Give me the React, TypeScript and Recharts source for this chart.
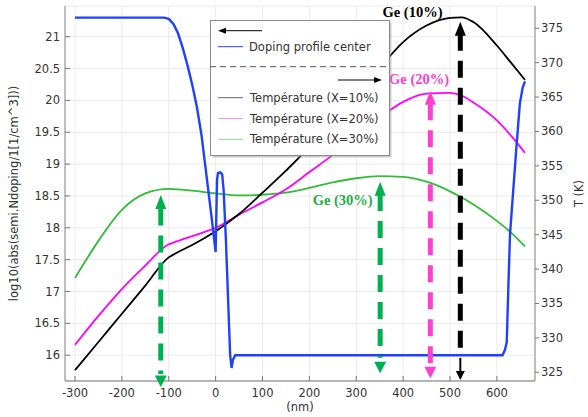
import React from "react";
import { LineChart, Line, XAxis, YAxis, CartesianGrid, ReferenceLine, ReferenceDot, Label } from "recharts";

// doping profile (left axis, log10 of |Ndoping| in cm^-3)
const dopingX = [-300, -200, -110, -100, -90, -80, -70, -60, -50, -40, -30, -20, -10, 0, 1.5, 3, 5, 10, 14, 17, 22, 27, 31, 34, 37, 42, 100, 300, 500, 612, 617, 621, 624.6, 628, 635, 642, 649, 655, 660];
const dopingLog = [21.3, 21.3, 21.3, 21.28, 21.2, 21.05, 20.82, 20.55, 20.25, 19.9, 19.45, 18.85, 18.25, 17.62, 18.2, 18.75, 18.86, 18.87, 18.84, 18.6, 17.8, 16.8, 16.0, 15.8, 15.93, 16.0, 16.0, 16.0, 16.0, 16.0, 16.08, 16.2, 17.1, 17.9, 18.6, 19.3, 19.95, 20.2, 20.3];

// temperature (right axis, K)
const tempX = [-300, -250, -200, -150, -100, -90, -50, 0, 50, 100, 150, 200, 250, 300, 350, 400, 450, 500, 525, 550, 600, 630, 660];
const temp10 = [325.3, 329.4, 333.5, 337.6, 341.7, 342.1, 343.5, 345.5, 348.0, 351.1, 354.3, 357.8, 362.0, 365.9, 369.3, 373.0, 375.4, 376.5, 376.6, 375.9, 372.5, 370.0, 367.5];
const temp20 = [329.0, 333.2, 337.1, 340.5, 343.6, 343.85, 344.8, 346.0, 347.9, 349.7, 351.6, 354.1, 356.6, 359.3, 362.0, 364.3, 365.5, 365.6, 365.2, 364.2, 361.6, 359.4, 356.9];
const temp30 = [338.7, 344.1, 348.6, 351.0, 351.65, 351.62, 351.4, 351.0, 350.7, 350.8, 351.1, 351.8, 352.6, 353.2, 353.5, 353.4, 352.7, 351.3, 350.4, 349.4, 347.0, 345.3, 343.3];

const xTicks = [-300, -200, -100, 0, 100, 200, 300, 400, 500, 600];
const leftTicks = [16, 16.5, 17, 17.5, 18, 18.5, 19, 19.5, 20, 20.5, 21];
const rightTicks = [325, 330, 335, 340, 345, 350, 355, 360, 365, 370, 375];

// peak markers: x, up-arrow tip, shaft top, shaft bottom, down-arrow tip (all in nm / K)
const arrowX = [-117, 351, 458, 522];
const arrowUpTip = [350.77, 352.7, 365.93, 375.96];
const arrowShaftTop = [348.8, 350.9, 364.1, 374.2];
const arrowShaftBottom = [324.75, 327.1, 326.1, 327.4];
const arrowDownTip = [322.86, 324.85, 324.13, 323.88];
const arrowColors = ["#00b050", "#00b050", "#ff3fcf", "#000000"];

const geLabels = ["Ge (10%)", "Ge (20%)", "Ge (30%)"];
const geLabelX = [420, 434, 271];
const geLabelT = [377.3, 367.6, 350.1];
const geColors = ["#000000", "#ff3fcf", "#1fae45"];

const legendLabels = ["Doping profile center", "Température (X=10%)", "Température (X=20%)", "Température (X=30%)"];
const legendColors = ["#2040ff", "#6a6a6a", "#ff8cf0", "#8fd68f"];

const dopingData = dopingX.map((x, i) => ({ x, v: dopingLog[i] }));
const tempData = tempX.map((x, i) => ({ x, t10: temp10[i], t20: temp20[i], t30: temp30[i] }));

const FONT = "DejaVu Sans";

const LeftTick = (p: any) => (
  <g>
    <line x1={p.x} x2={p.x + 5} y1={p.y} y2={p.y} stroke="#777" />
    <text x={p.x - 5} y={p.y} textAnchor="end" dominantBaseline="central" fontSize={11.5} fill="#333" fontFamily={FONT}>
      {p.payload.value}
    </text>
  </g>
);

const RightTick = (p: any) => (
  <g>
    <line x1={p.x} x2={p.x + 4} y1={p.y} y2={p.y} stroke="#777" />
    <text x={p.x + 6} y={p.y} textAnchor="start" dominantBaseline="central" fontSize={11.5} fill="#333" fontFamily={FONT}>
      {p.payload.value}
    </text>
  </g>
);

const BottomTick = (p: any) => (
  <g>
    <line x1={p.x} x2={p.x} y1={p.y} y2={p.y - 5} stroke="#777" />
    <text x={p.x} y={p.y + 12} textAnchor="middle" dominantBaseline="central" fontSize={11.5} fill="#333" fontFamily={FONT}>
      {p.payload.value}
    </text>
  </g>
);

const TopTick = (p: any) => <line x1={p.x} x2={p.x} y1={p.y} y2={p.y + 5} stroke="#aaa" />;

const title = (text: string, dx: number, dy: number, angle: number) => (props: any) => {
  const vb = props.viewBox;
  const x = vb.x + dx;
  const y = vb.y + dy;
  return (
    <text x={x} y={y} transform={angle ? `rotate(${angle} ${x} ${y})` : undefined} textAnchor="middle" dominantBaseline="central" fontSize={11.5} fill="#333" fontFamily={FONT}>
      {text}
    </text>
  );
};

const headUp = (color: string, w: number, h: number) => (p: any) => (
  <polygon points={`${p.cx},${p.cy} ${p.cx - w / 2},${p.cy + h} ${p.cx + w / 2},${p.cy + h}`} fill={color} />
);
const headDown = (color: string, w: number, h: number) => (p: any) => (
  <polygon points={`${p.cx},${p.cy} ${p.cx - w / 2},${p.cy - h} ${p.cx + w / 2},${p.cy - h}`} fill={color} />
);
const geText = (text: string, color: string) => (p: any) => (
  <text x={p.cx} y={p.cy} textAnchor="middle" dominantBaseline="central" fontSize={14.5} fontWeight="bold" fill={color} fontFamily="Liberation Serif">
    {text}
  </text>
);

const LegendBox = () => (
  <svg width={182} height={138} style={{ position: "absolute", left: 210, top: 20, overflow: "visible" }}>
    <rect x={2.5} y={2.5} width={179} height={135} fill="#9a9a9a" opacity={0.5} />
    <rect x={0.5} y={0.5} width={179} height={135} fill="#fff" stroke="#8a8a8a" />
    <line x1={14} x2={52} y1={10.7} y2={10.7} stroke="#000" />
    <polygon points="8,10.7 16,7.7 16,13.7" fill="#000" />
    <line x1={8} x2={33} y1={26.7} y2={26.7} stroke={legendColors[0]} />
    <text x={39} y={26.7} dominantBaseline="central" fontSize={11.5} fill="#333" fontFamily={FONT}>{legendLabels[0]}</text>
    <line x1={0} x2={180} y1={46.7} y2={46.7} stroke="#555" strokeDasharray="6 4" />
    <line x1={128} x2={166} y1={60} y2={60} stroke="#000" />
    <polygon points="172,60 164,57 164,63" fill="#000" />
    {legendLabels.slice(1).map((l, i) => (
      <g key={l}>
        <line x1={8} x2={33} y1={77.7 + i * 20.8} y2={77.7 + i * 20.8} stroke={legendColors[i + 1]} />
        <text x={40} y={77.7 + i * 20.8} dominantBaseline="central" fontSize={11.5} fill="#333" fontFamily={FONT}>{l}</text>
      </g>
    ))}
  </svg>
);

export default function App() {
  return (
    <div style={{ position: "absolute", left: 0, top: 0, width: 588, height: 417, background: "#fff" }}>
      <LineChart width={588} height={417} margin={{ top: 6, right: 0, bottom: 0, left: 0 }}>
        <CartesianGrid yAxisId="left" stroke="#ebebeb" />
        <XAxis dataKey="x" type="number" domain={[-321.3, 681.3]} ticks={xTicks} allowDataOverflow height={36} tickSize={0} tickMargin={0} tickLine={false} axisLine={{ stroke: "#777" }} tick={BottomTick}>
          <Label content={title("(nm)", 235, 26, 0)} />
        </XAxis>
        <XAxis xAxisId="top" orientation="top" dataKey="x" type="number" domain={[-321.3, 681.3]} ticks={xTicks} allowDataOverflow height={0} tickSize={0} tickMargin={0} tickLine={false} axisLine={{ stroke: "#bbb" }} tick={TopTick} />
        <YAxis yAxisId="left" domain={[15.595, 21.482]} ticks={leftTicks} allowDataOverflow width={65} tickSize={0} tickMargin={0} tickLine={false} axisLine={{ stroke: "#888" }} tick={LeftTick}>
          <Label content={title("log10(abs(semi.Ndoping/1[1/cm^3]))", 14, 187.5, -90)} />
        </YAxis>
        <YAxis yAxisId="right" orientation="right" domain={[323.73, 378.24]} ticks={rightTicks} allowDataOverflow width={53} tickSize={0} tickMargin={0} tickLine={false} axisLine={{ stroke: "#888" }} tick={RightTick}>
          <Label content={title("T (K)", 44, 187.5, -90)} />
        </YAxis>

        <Line yAxisId="right" data={tempData} dataKey="t30" type="monotone" stroke="#33bb3a" strokeWidth={1.8} dot={false} activeDot={false} isAnimationActive={false} />
        <Line yAxisId="right" data={tempData} dataKey="t20" type="monotone" stroke="#ff00ff" strokeWidth={1.8} dot={false} activeDot={false} isAnimationActive={false} />
        <Line yAxisId="right" data={tempData} dataKey="t10" type="monotone" stroke="#000000" strokeWidth={1.8} dot={false} activeDot={false} isAnimationActive={false} />
        <Line yAxisId="left" data={dopingData} dataKey="v" type="linear" stroke="#2040ff" strokeWidth={2.4} dot={false} activeDot={false} isAnimationActive={false} />

        {arrowX.map((x, i) => (
          <ReferenceLine
            key={`s${i}`}
            yAxisId="right"
            segment={[{ x, y: arrowShaftTop[i] }, { x, y: arrowShaftBottom[i] }]}
            stroke={arrowColors[i]}
            strokeWidth={5}
            strokeDasharray="17 10"
          />
        ))}
        {arrowX.map((x, i) => (
          <ReferenceDot key={`u${i}`} yAxisId="right" x={x} y={arrowUpTip[i]} ifOverflow="visible" shape={headUp(arrowColors[i], 11, 14)} />
        ))}
        {arrowX.slice(0, 3).map((x, i) => (
          <ReferenceDot key={`d${i}`} yAxisId="right" x={x} y={arrowDownTip[i]} ifOverflow="visible" shape={headDown(arrowColors[i], 12, 11.5)} />
        ))}
        <ReferenceLine yAxisId="right" segment={[{ x: arrowX[3], y: arrowShaftBottom[3] - 0.3 }, { x: arrowX[3], y: arrowDownTip[3] + 1 }]} stroke="#000" strokeWidth={2} ifOverflow="visible" />
        <ReferenceDot yAxisId="right" x={arrowX[3]} y={arrowDownTip[3]} ifOverflow="visible" shape={headDown("#000", 9, 9)} />

        {geLabels.map((l, i) => (
          <ReferenceDot key={l} yAxisId="right" x={geLabelX[i]} y={geLabelT[i]} ifOverflow="visible" shape={geText(l, geColors[i])} />
        ))}
      </LineChart>
      <LegendBox />
    </div>
  );
}
